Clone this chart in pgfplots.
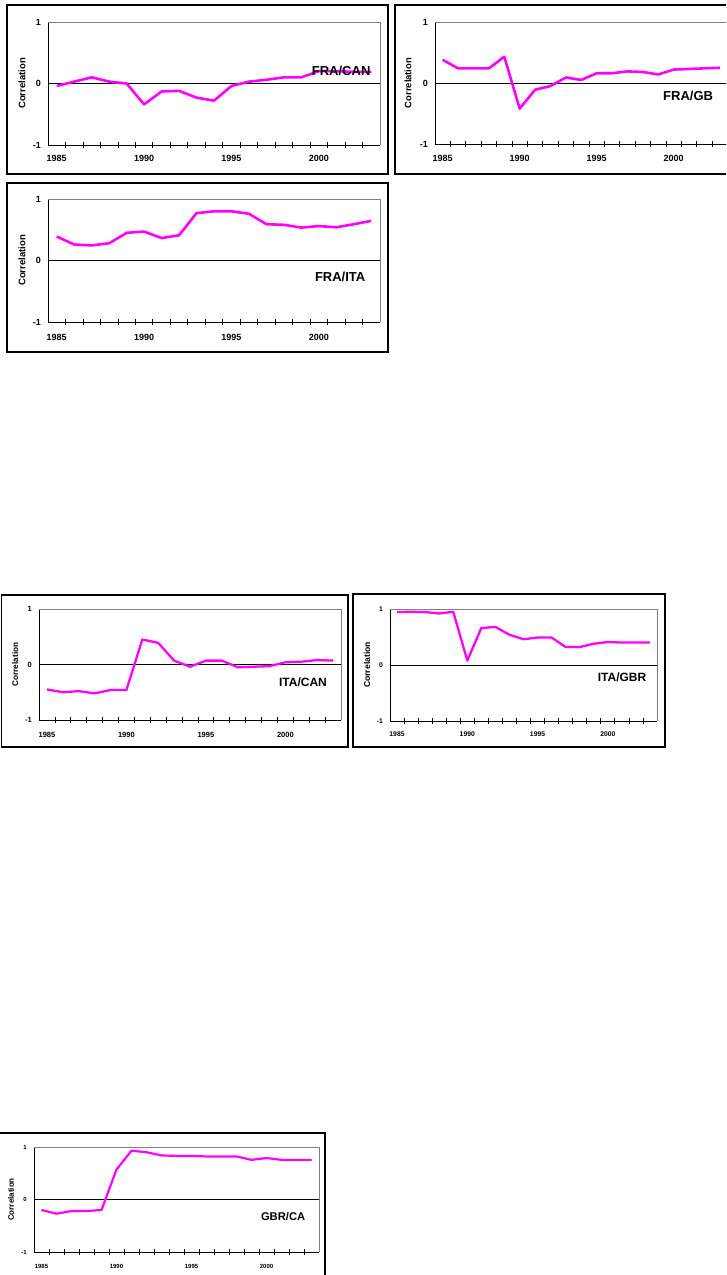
\documentclass[border=0pt]{standalone}
\usepackage{fontspec}
\setmainfont{Liberation Sans}
\usepackage{pgfplots}
\pgfplotsset{compat=1.18}
\definecolor{mag}{RGB}{255,0,255}
\pgfplotsset{
  corr/.style={
    scale only axis, anchor=south west,
    xmin=1984.5, xmax=2003.5, ymin=-1, ymax=1,
    axis x line*=bottom, axis y line*=left,
    axis line style={black, line width=0.8pt},
    xtick={1985,1990,1995,2000}, xticklabels={1985,1990,1995,2000},
    minor xtick={1985.5,1986.5,...,2002.5},
    ytick={-1,0,1}, yticklabels={-1,0,1},
    major tick length=0pt, minor tick length=6pt, tick align=center,
    tick style={black, line width=0.7pt},
    extra y ticks={0}, extra y tick labels={},
    extra y tick style={grid=major, major grid style={black, line width=0.7pt}},
    xticklabel style={anchor=center, inner sep=0pt},
    yticklabel style={anchor=east, inner sep=0pt, xshift=-7pt},
    ylabel={Correlation},
    after end axis/.code={\draw[gray, line width=0.8pt] (rel axis cs:0,1) -- (rel axis cs:1,1) -- (rel axis cs:1,0);},
  },
  tf/.style={tick label style={font=\fontsize{#1}{#1}\selectfont\bfseries}},
  yl/.style 2 args={ylabel style={at={(rel axis cs:#1,0.5)}, anchor=center, font=\fontsize{#2}{#2}\selectfont\bfseries}},
}
\begin{document}
\begin{tikzpicture}
\path[use as bounding box] (0,0) rectangle (726pt,1275pt);
\clip (0,0) rectangle (726pt,1275pt);
% frames
\draw[line width=1.1pt] (7pt,1101pt) rectangle (388pt,1270pt);
\draw[line width=1.1pt] (395pt,1101pt) rectangle (740pt,1270pt);
\draw[line width=1.1pt] (7pt,923pt) rectangle (388pt,1092pt);
\draw[line width=1.1pt] (1.5pt,528pt) rectangle (348pt,680pt);
\draw[line width=1.1pt] (353pt,528pt) rectangle (665pt,681pt);
\draw[line width=1.1pt] (-3pt,-20pt) rectangle (325pt,1142pt-1000pt);

% Panel 1 FRA/CAN
\begin{axis}[corr, at={(48pt,1130pt)}, width=332pt, height=123pt, tf=9, yl={-0.078}{9.5},
  xticklabel style={yshift=-13pt}]
\addplot[mag, line width=2.6pt, line join=round] coordinates {
(1985,-0.04) (1986,0.03) (1987,0.10) (1988,0.03) (1989,0.00) (1990,-0.34)
(1991,-0.13) (1992,-0.12) (1993,-0.23) (1994,-0.28) (1995,-0.04) (1996,0.03)
(1997,0.06) (1998,0.10) (1999,0.10) (2000,0.20) (2001,0.20) (2002,0.19) (2003,0.19)};
\node[font=\fontsize{13}{13}\selectfont\bfseries] at (rel axis cs:0.883,0.60) {FRA/CAN};
\end{axis}

% Panel 2 FRA/GB
\begin{axis}[corr, at={(435pt,1131pt)}, width=292.6pt, height=122pt, tf=9, yl={-0.092}{9.4},
  xticklabel style={yshift=-14pt}]
\addplot[mag, line width=2.6pt, line join=round] coordinates {
(1985,0.38) (1986,0.24) (1987,0.24) (1988,0.24) (1989,0.43) (1990,-0.42)
(1991,-0.11) (1992,-0.05) (1993,0.09) (1994,0.05) (1995,0.16) (1996,0.16)
(1997,0.19) (1998,0.18) (1999,0.14) (2000,0.22) (2001,0.23) (2002,0.24) (2003,0.25)};
\node[font=\fontsize{13}{13}\selectfont\bfseries] at (rel axis cs:0.865,0.393) {FRA/GB};
\end{axis}

% Panel 3 FRA/ITA
\begin{axis}[corr, at={(48pt,953pt)}, width=332pt, height=123pt, tf=9, yl={-0.078}{9.5},
  xticklabel style={yshift=-15pt}]
\addplot[mag, line width=2.6pt, line join=round] coordinates {
(1985,0.39) (1986,0.26) (1987,0.245) (1988,0.28) (1989,0.45) (1990,0.47)
(1991,0.365) (1992,0.41) (1993,0.77) (1994,0.80) (1995,0.80) (1996,0.76)
(1997,0.59) (1998,0.58) (1999,0.535) (2000,0.56) (2001,0.54) (2002,0.59) (2003,0.645)};
\node[font=\fontsize{13}{13}\selectfont\bfseries] at (rel axis cs:0.88,0.366) {FRA/ITA};
\end{axis}

% Panel 4 ITA/CAN
\begin{axis}[corr, at={(39pt,555pt)}, width=302pt, height=111pt, tf=7.5, yl={-0.079}{8.2},
  xticklabel style={yshift=-15pt}]
\addplot[mag, line width=2.3pt, line join=round] coordinates {
(1985,-0.45) (1986,-0.50) (1987,-0.48) (1988,-0.52) (1989,-0.46) (1990,-0.46)
(1991,0.45) (1992,0.39) (1993,0.07) (1994,-0.04) (1995,0.07) (1996,0.07)
(1997,-0.05) (1998,-0.04) (1999,-0.03) (2000,0.04) (2001,0.05) (2002,0.08) (2003,0.07)};
\node[font=\fontsize{12}{12}\selectfont\bfseries] at (rel axis cs:0.874,0.342) {ITA/CAN};
\end{axis}

% Panel 5 ITA/GBR
\begin{axis}[corr, at={(390pt,554pt)}, width=267pt, height=112pt, tf=6.8, yl={-0.086}{8.6},
  xticklabel style={yshift=-13pt}]
\addplot[mag, line width=2.3pt, line join=round] coordinates {
(1985,0.945) (1986,0.95) (1987,0.945) (1988,0.92) (1989,0.95) (1990,0.08)
(1991,0.66) (1992,0.68) (1993,0.54) (1994,0.46) (1995,0.49) (1996,0.49)
(1997,0.32) (1998,0.32) (1999,0.38) (2000,0.41) (2001,0.40) (2002,0.40) (2003,0.40)};
\node[font=\fontsize{12}{12}\selectfont\bfseries] at (rel axis cs:0.869,0.393) {ITA/GBR};
\end{axis}

% Panel 6 GBR/CA
\begin{axis}[corr, at={(34pt,23pt)}, width=285pt, height=105pt, tf=6, yl={-0.081}{8},
  xticklabel style={yshift=-14pt}]
\addplot[mag, line width=2.2pt, line join=round] coordinates {
(1985,-0.20) (1986,-0.27) (1987,-0.22) (1988,-0.22) (1989,-0.20) (1990,0.57)
(1991,0.93) (1992,0.90) (1993,0.84) (1994,0.83) (1995,0.83) (1996,0.82)
(1997,0.82) (1998,0.82) (1999,0.755) (2000,0.79) (2001,0.755) (2002,0.755) (2003,0.755)};
\node[font=\fontsize{11.2}{11.2}\selectfont\bfseries] at (rel axis cs:0.874,0.333) {GBR/CA};
\end{axis}
\end{tikzpicture}
\end{document}
